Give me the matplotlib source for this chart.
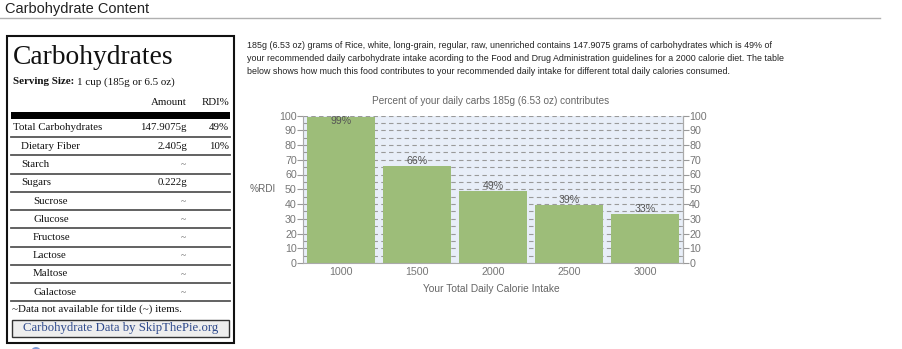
import matplotlib
matplotlib.use("Agg")
import matplotlib.pyplot as plt
from matplotlib.patches import Rectangle, Ellipse

# ---- data ----
calories = [1000, 1500, 2000, 2500, 3000]
pct_rdi = [99, 66, 49, 39, 33]

nutrients = ["Total Carbohydrates", "Dietary Fiber", "Starch", "Sugars",
             "Sucrose", "Glucose", "Fructose", "Lactose", "Maltose", "Galactose"]
indent = [0, 1, 1, 1, 2, 2, 2, 2, 2, 2]
amounts = ["147.9075g", "2.405g", "~", "0.222g", "~", "~", "~", "~", "~", "~"]
rdi = ["49%", "10%", "", "", "", "", "", "", "", ""]

paragraph = [
    "185g (6.53 oz) grams of Rice, white, long-grain, regular, raw, unenriched contains 147.9075 grams of carbohydrates which is 49% of",
    "your recommended daily carbohydrate intake acording to the Food and Drug Administration guidelines for a 2000 calorie diet. The table",
    "below shows how much this food contributes to your recommended daily intake for different total daily calories consumed.",
]

W, H = 902, 349
SANS = "Liberation Sans"
SERIF = "Liberation Serif"


def pt(px):
    return px * 0.72


fig = plt.figure(figsize=(W / 100, H / 100), dpi=100)
fig.patch.set_facecolor("white")

# page layer in pixel coordinates
page = fig.add_axes([0, 0, 1, 1])
page.set_xlim(0, W)
page.set_ylim(H, 0)
page.axis("off")

page.text(5, 9, "Carbohydrate Content", family=SANS, fontsize=pt(14.6),
          color="#222222", va="center", ha="left")
page.plot([0, 880], [17.5, 17.5], color="#b0b0b0", lw=1)

# nutrition label box
page.add_patch(Rectangle((7, 36), 227, 307, fill=False, ec="#111111", lw=1.5))
page.text(13, 58, "Carbohydrates", family=SERIF, fontsize=pt(27.5),
          color="#111111", va="center", ha="left")

t_bold = page.text(13, 82, "Serving Size:", family=SERIF, fontsize=pt(11),
                   weight="bold", color="#111111", va="center", ha="left")
fig.canvas.draw()
bb = t_bold.get_window_extent()
x_after = bb.x1 + 3
page.text(x_after, 82, "1 cup (185g or 6.5 oz)", family=SERIF, fontsize=pt(11),
          color="#111111", va="center", ha="left")

row_px = 10.9
page.text(187, 102.5, "Amount", family=SERIF, fontsize=pt(row_px),
          color="#111111", va="center", ha="right")
page.text(229, 102.5, "RDI%", family=SERIF, fontsize=pt(row_px),
          color="#111111", va="center", ha="right")
page.add_patch(Rectangle((11, 111.5), 219, 7.5, color="#000000", lw=0))

row0, step = 128.0, 18.25
for i, name in enumerate(nutrients):
    y = row0 + i * step
    x = 13 + [0, 8, 20][indent[i]]
    page.text(x, y, name, family=SERIF, fontsize=pt(row_px),
              color="#111111", va="center", ha="left")
    if amounts[i] == "~":
        page.text(183, y + 1, "~", family=SERIF, fontsize=pt(9.5),
                  color="#444444", va="center", ha="center")
    else:
        page.text(187, y, amounts[i], family=SERIF, fontsize=pt(row_px),
                  color="#111111", va="center", ha="right")
    if rdi[i]:
        page.text(229, y, rdi[i], family=SERIF, fontsize=pt(row_px),
                  color="#111111", va="center", ha="right")
    ly = y + 9.2
    page.plot([11, 230], [ly, ly], color="#555555", lw=1.3)

page.text(12, 309.5, "~Data not available for tilde (~) items.", family=SERIF,
          fontsize=pt(11), color="#111111", va="center", ha="left")
page.add_patch(Rectangle((12, 319.5), 217, 17, fc="#eeeeee", ec="#333333", lw=1))
page.text(120.5, 328.5, "Carbohydrate Data by SkipThePie.org", family=SERIF,
          fontsize=pt(12.7), color="#2f4a8c", va="center", ha="center")

# small icon peeking at the bottom edge
page.add_patch(Ellipse((36, 352), 10, 10, fc="#7d9bd6", ec="none"))

# paragraph text
for k, line in enumerate(paragraph):
    page.text(247, 46 + k * 12.7, line, family=SANS, fontsize=pt(8.85),
              color="#222222", va="center", ha="left")

# ---- bar chart ----
x0, x1 = 303, 683
y_top, y_zero = 115.5, 263
ax = fig.add_axes([x0 / W, (H - y_zero) / H, (x1 - x0) / W, (y_zero - y_top) / H])
ax.set_facecolor("#e8eef8")
positions = list(range(len(calories)))
ax.set_xlim(-0.5, len(calories) - 0.5)
ax.set_ylim(0, 100)
ax.set_yticks(range(0, 101, 10))
ax.set_yticks(range(0, 101, 5), minor=True)
ax.set_axisbelow(True)
ax.grid(True, which="both", axis="y", color="#9a9a9a", lw=0.8,
        linestyle=(0, (4, 3)))
ax.grid(False, axis="x")

label_px = 10.5
bars = ax.bar(positions, pct_rdi, width=0.9, color="#9dbd79", edgecolor="none",
              zorder=2)
for p, v in zip(positions, pct_rdi):
    if v + 7 > 100:
        ax.text(p, 100, f"{v}%", ha="center", va="top", fontsize=pt(label_px),
                family=SANS, color="#555555", zorder=3)
    else:
        ax.text(p, v, f"{v}%", ha="center", va="bottom", fontsize=pt(label_px),
                family=SANS, color="#555555", zorder=3)

tick_px = 10.6
ax.set_xticks(positions)
ax.set_xticklabels([str(c) for c in calories])
tick_color = "#777777"
ax.spines["top"].set_visible(False)
for s in ["left", "right", "bottom"]:
    ax.spines[s].set_color("#aaaaaa")
    ax.spines[s].set_linewidth(0.8)
ax.tick_params(axis="y", which="major", length=4, color="#999999",
               labelcolor=tick_color, labelsize=pt(tick_px), pad=0.5)
ax.tick_params(axis="y", which="minor", length=3, direction="in",
               color="#999999")
ax.tick_params(axis="x", length=0, labelcolor=tick_color, labelsize=pt(tick_px),
               pad=3)
for lab in ax.get_xticklabels() + ax.get_yticklabels():
    lab.set_family(SANS)

ax2 = ax.twinx()
ax2.set_ylim(0, 100)
ax2.set_yticks(range(0, 101, 10))
ax2.set_yticks(range(0, 101, 5), minor=True)
for s in ["top", "left", "bottom"]:
    ax2.spines[s].set_visible(False)
ax2.spines["right"].set_color("#aaaaaa")
ax2.spines["right"].set_linewidth(0.8)
ax2.tick_params(axis="y", which="major", length=4, color="#999999",
                labelcolor=tick_color, labelsize=pt(tick_px), pad=0.5)
ax2.tick_params(axis="y", which="minor", length=3, direction="in",
                color="#999999")
for lab in ax2.get_yticklabels():
    lab.set_family(SANS)

page.text(491, 101, "Percent of your daily carbs 185g (6.53 oz) contributes",
          family=SANS, fontsize=pt(10), color="#666666", va="center",
          ha="center")
page.text(263, 189.5, "%RDI", family=SANS, fontsize=pt(10), color="#666666",
          va="center", ha="center")
page.text(491, 289, "Your Total Daily Calorie Intake", family=SANS,
          fontsize=pt(10.2), color="#666666", va="center", ha="center")

fig.savefig("out.png", dpi=100, facecolor="white")
